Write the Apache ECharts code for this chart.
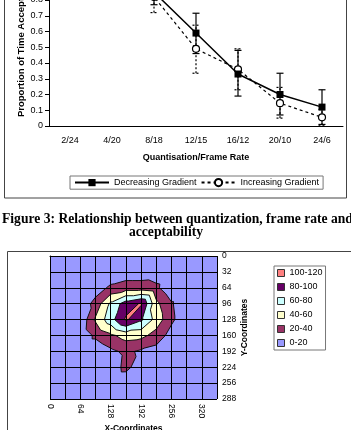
<!DOCTYPE html>
<html lang="en">
<head>
<meta charset="UTF-8">
<title>Acceptability and contour plot</title>
<script src="https://cdn.jsdelivr.net/npm/echarts@6/dist/echarts.min.js"></script>
<style>
  html, body { margin: 0; padding: 0; background: #fff; }
  #main { width: 351px; height: 430px; }
</style>
</head>
<body>
<div id="main"></div>
<script>
    // ---- top chart: proportion of time acceptable ----
    var rates = ['2/24', '4/20', '8/18', '12/15', '16/12', '20/10', '24/6'];
    var decreasing = [0.97, 0.95, 0.85, 0.59, 0.33, 0.20, 0.12];
    var decLow = [0.94, 0.91, 0.77, 0.46, 0.19, 0.07, 0.01];
    var decHigh = [1.0, 0.99, 0.93, 0.716, 0.48, 0.335, 0.23];
    var increasing = [0.96, 0.93, 0.82, 0.49, 0.36, 0.145, 0.055];
    var incLow = [0.92, 0.89, 0.72, 0.335, 0.23, 0.05, 0.005];
    var incHigh = [1.0, 0.97, 0.92, 0.64, 0.49, 0.245, 0.105];

    // ---- bottom chart: contour of intensity over x/y coordinates ----
    var xCoords = [0, 32, 64, 96, 128, 160, 192, 224, 256, 288, 320, 352];
    var yCoords = [0, 32, 64, 96, 128, 160, 192, 224, 256, 288];
    var intensity = [
        [5, 6, 5, 6, 7, 8, 8, 7, 6, 5, 5, 4],
        [6, 7, 6, 8, 5, 8, 8, 10, 7, 6, 5, 5],
        [7, 8, 9, 10, 24, 30, 30, 24, 5, 7, 6, 5],
        [6, 8, 6, 27, 64, 90, 102, 45, 22, 6, 6, 5],
        [5, 7, 3, 43, 72, 103, 84, 52, 24, 6, 5, 5],
        [5, 6, 6, 24, 36, 48, 46, 32, 12, 7, 6, 5],
        [4, 5, 6, 6, 16, 24, 17, 12, 8, 6, 5, 4],
        [4, 5, 5, 6, 8, 26, 8, 7, 6, 5, 5, 4],
        [3, 4, 5, 5, 6, 5, 6, 6, 5, 4, 4, 3],
        [3, 3, 4, 4, 5, 5, 5, 5, 4, 4, 3, 3]
    ];
    var bandNames = ['0-20', '20-40', '40-60', '60-80', '80-100', '100-120'];
    var bandLevels = [0, 20, 40, 60, 80, 100];
    var bandColors = ['#9999ff', '#993366', '#ffffcc', '#ccffff', '#660066', '#ff8080'];

    var FONT = '"Liberation Sans", Arial, sans-serif';

    // split every grid cell into two triangles (along the TR-BL diagonal)
    var triangles = [];
    for (var j = 0; j < yCoords.length - 1; j++) {
        for (var i = 0; i < xCoords.length - 1; i++) {
            var tl = [xCoords[i], yCoords[j], intensity[j][i]];
            var tr = [xCoords[i + 1], yCoords[j], intensity[j][i + 1]];
            var bl = [xCoords[i], yCoords[j + 1], intensity[j + 1][i]];
            var br = [xCoords[i + 1], yCoords[j + 1], intensity[j + 1][i + 1]];
            triangles.push([tl, tr, bl], [tr, br, bl]);
        }
    }

    function lerp(p, q, level) {
        var t = (level - p[2]) / (q[2] - p[2]);
        return [p[0] + t * (q[0] - p[0]), p[1] + t * (q[1] - p[1]), level];
    }

    // part of a triangle where value >= level
    function clipAbove(tri, level) {
        var out = [];
        for (var k = 0; k < 3; k++) {
            var p = tri[k], q = tri[(k + 1) % 3];
            var pin = p[2] >= level, qin = q[2] >= level;
            if (pin) out.push(p);
            if (pin !== qin) out.push(lerp(p, q, level));
        }
        return out;
    }

    function crossings(tri, level) {
        var pts = [];
        for (var k = 0; k < 3; k++) {
            var p = tri[k], q = tri[(k + 1) % 3];
            if ((p[2] >= level) !== (q[2] >= level)) pts.push(lerp(p, q, level));
        }
        return pts;
    }

    function pt(api, p) {
        var c = api.coord([p[0], p[1]]);
        return c[0].toFixed(2) + ' ' + c[1].toFixed(2);
    }

    function bandRenderer(level, color) {
        return function (params, api) {
            var d = '';
            triangles.forEach(function (tri) {
                var poly = clipAbove(tri, level);
                if (poly.length < 3) return;
                poly.forEach(function (p, k) {
                    d += (k ? 'L' : 'M') + pt(api, p);
                });
                d += 'Z';
            });
            return {
                type: 'path',
                shape: { pathData: d },
                style: { fill: color, stroke: null }
            };
        };
    }

    function contourLines(params, api) {
        var d = '';
        bandLevels.slice(1).forEach(function (level) {
            triangles.forEach(function (tri) {
                var c = crossings(tri, level);
                if (c.length === 2) d += 'M' + pt(api, c[0]) + 'L' + pt(api, c[1]);
            });
        });
        return {
            type: 'path',
            shape: { pathData: d },
            style: { fill: null, stroke: '#111', lineWidth: 1 }
        };
    }

    function errorBars(lineDash) {
        return function (params, api) {
            var lo = api.coord([api.value(0), api.value(1)]);
            var hi = api.coord([api.value(0), api.value(2)]);
            var w = 3.5;
            var st = { stroke: '#000', lineWidth: 1.2, lineDash: lineDash };
            return {
                type: 'group',
                children: [
                    { type: 'line', shape: { x1: lo[0], y1: lo[1], x2: hi[0], y2: hi[1] }, style: st },
                    { type: 'line', shape: { x1: lo[0] - w, y1: lo[1], x2: lo[0] + w, y2: lo[1] }, style: st },
                    { type: 'line', shape: { x1: hi[0] - w, y1: hi[1], x2: hi[0] + w, y2: hi[1] }, style: st }
                ]
            };
        };
    }

    var decBars = rates.map(function (r, k) { return [k, decLow[k], decHigh[k]]; });
    var incBars = rates.map(function (r, k) { return [k, incLow[k], incHigh[k]]; });

    var series = [
        {
            type: 'custom', name: 'decBars', xAxisIndex: 0, yAxisIndex: 0, z: 1, clip: false,
            renderItem: errorBars(null), encode: { x: 0, y: [1, 2] }, data: decBars
        },
        {
            type: 'custom', name: 'incBars', xAxisIndex: 0, yAxisIndex: 0, z: 1, clip: false,
            renderItem: errorBars([2, 2]), encode: { x: 0, y: [1, 2] }, data: incBars
        },
        {
            type: 'line', name: 'Increasing Gradient', xAxisIndex: 0, yAxisIndex: 0, z: 3, clip: false,
            data: increasing, symbol: 'circle', symbolSize: 7, color: '#000',
            lineStyle: { color: '#000', width: 1.2, type: [3, 3] },
            itemStyle: { color: '#fff', borderColor: '#000', borderWidth: 1.2 }
        },
        {
            type: 'line', name: 'Decreasing Gradient', xAxisIndex: 0, yAxisIndex: 0, z: 4, clip: false,
            data: decreasing, symbol: 'rect', symbolSize: 7, color: '#000',
            lineStyle: { color: '#000', width: 1.5 },
            itemStyle: { color: '#000' }
        }
    ];

    bandNames.forEach(function (name, k) {
        series.push({
            type: 'custom', name: name, xAxisIndex: 1, yAxisIndex: 1, z: 1,
            itemStyle: { color: bandColors[k] },
            renderItem: bandRenderer(bandLevels[k], bandColors[k]),
            data: [[0, 0]]
        });
    });
    series.push({
        type: 'custom', name: 'contours', xAxisIndex: 1, yAxisIndex: 1, z: 2,
        renderItem: contourLines, data: [[0, 0]]
    });

    var myChart = echarts.init(document.getElementById('main'));

    var option = {
        animation: false,
        textStyle: { fontFamily: FONT },
        grid: [
            // the top of this chart is cut off at 0.8 in the picture
            { left: 49, width: 294, top: 0, height: 126, containLabel: false, outerBoundsMode: 'none' },
            { left: 50, width: 167, top: 256, height: 143, containLabel: false, outerBoundsMode: 'none' }
        ],
        xAxis: [
            {
                gridIndex: 0, type: 'category', data: rates,
                name: 'Quantisation/Frame Rate', nameLocation: 'middle', nameGap: 27,
                nameTextStyle: { fontSize: 9, fontWeight: 'bold', color: '#000', fontFamily: FONT },
                axisLine: { lineStyle: { color: '#000' } },
                axisTick: { length: 4, lineStyle: { color: '#000' } },
                axisLabel: { fontSize: 9, color: '#000', margin: 10, fontFamily: FONT },
                splitLine: { show: false }
            },
            {
                gridIndex: 1, type: 'value', min: 0, max: 352, interval: 32, z: 5,
                name: 'X-Coordinates', nameLocation: 'middle', nameGap: 25,
                nameTextStyle: { fontSize: 8.5, fontWeight: 'bold', color: '#000', fontFamily: FONT },
                axisLine: { show: true, lineStyle: { color: '#000' } },
                axisTick: { show: true, length: 3, lineStyle: { color: '#000' } },
                axisLabel: {
                    fontSize: 8.5, color: '#000', rotate: -90, margin: 5, fontFamily: FONT,
                    formatter: function (v) { return v % 64 === 0 ? String(v) : ''; }
                },
                splitLine: { show: true, lineStyle: { color: '#000', width: 1 } }
            }
        ],
        yAxis: [
            {
                gridIndex: 0, type: 'value', min: 0, max: 0.8, interval: 0.1,
                name: 'Proportion of Time Acceptable', nameLocation: 'middle', nameGap: 23,
                nameMoveOverlap: false,
                nameTextStyle: {
                    fontSize: 9.5, fontWeight: 'bold', color: '#000', fontFamily: FONT,
                    padding: [0, 0, 0, 30]
                },
                axisLine: { show: true, lineStyle: { color: '#000' } },
                axisTick: { show: true, length: 4, lineStyle: { color: '#000' } },
                axisLabel: { fontSize: 9, color: '#000', margin: 6, fontFamily: FONT },
                splitLine: { show: false }
            },
            {
                gridIndex: 1, type: 'value', min: 0, max: 288, interval: 32, inverse: true,
                position: 'right', z: 5,
                name: 'Y-Coordinates', nameLocation: 'middle', nameGap: 21,
                nameTextStyle: { fontSize: 8.5, fontWeight: 'bold', color: '#000', fontFamily: FONT },
                axisLine: { show: true, lineStyle: { color: '#000' } },
                axisTick: { show: true, length: 3, lineStyle: { color: '#000' } },
                axisLabel: { fontSize: 8.5, color: '#000', margin: 5, fontFamily: FONT },
                splitLine: { show: true, lineStyle: { color: '#000', width: 1 } }
            }
        ],
        legend: [
            {
                data: ['Decreasing Gradient', 'Increasing Gradient'],
                left: 70, top: 176, orient: 'horizontal',
                itemWidth: 34, itemHeight: 9, itemGap: 4,
                padding: [2, 4], borderColor: '#777', borderWidth: 1,
                textStyle: { fontSize: 9, color: '#000', fontFamily: FONT }
            },
            {
                data: bandNames.slice().reverse(),
                left: 274, top: 266, orient: 'vertical', icon: 'rect',
                itemWidth: 7, itemHeight: 7, itemGap: 2,
                padding: [1, 3], borderColor: '#777', borderWidth: 1,
                itemStyle: { borderColor: '#333', borderWidth: 1 },
                textStyle: { fontSize: 9, color: '#000', lineHeight: 12, fontFamily: FONT }
            }
        ],
        graphic: [
            {
                type: 'rect', z: 0, silent: true,
                shape: { x: 4.5, y: -10, width: 342, height: 208 },
                style: { fill: null, stroke: '#444', lineWidth: 1 }
            },
            {
                type: 'rect', z: 0, silent: true,
                shape: { x: 7.5, y: 251.5, width: 400, height: 300 },
                style: { fill: null, stroke: '#444', lineWidth: 1 }
            },
            {
                type: 'text', x: 2, y: 219,
                style: {
                    text: 'Figure 3: Relationship between quantization, frame rate and',
                    font: 'bold 13.6px "Liberation Serif", "Times New Roman", serif',
                    fill: '#000', align: 'left', verticalAlign: 'middle'
                }
            },
            {
                type: 'text', x: 166, y: 232,
                style: {
                    text: 'acceptability',
                    font: 'bold 13.6px "Liberation Serif", "Times New Roman", serif',
                    fill: '#000', align: 'center', verticalAlign: 'middle'
                }
            }
        ],
        series: series
    };

    myChart.setOption(option);
</script>
</body>
</html>
